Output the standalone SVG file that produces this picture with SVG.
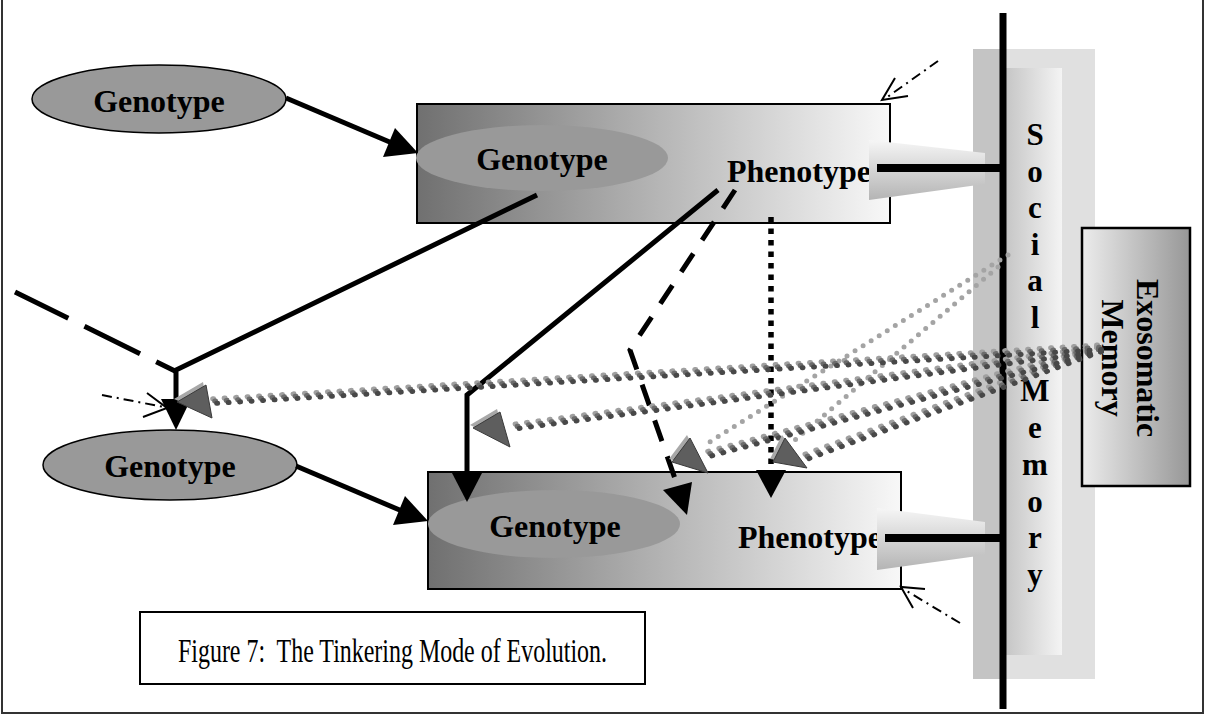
<svg xmlns="http://www.w3.org/2000/svg" width="1205" height="716" viewBox="0 0 1205 716">
<defs>
<linearGradient id="boxG" x1="0" y1="0" x2="1" y2="0">
<stop offset="0" stop-color="#707070"/><stop offset="1" stop-color="#f8f8f8"/>
</linearGradient>
<linearGradient id="colG" x1="0" y1="0" x2="1" y2="0">
<stop offset="0" stop-color="#c6c6c6"/><stop offset="1" stop-color="#f4f4f4"/>
</linearGradient>
<linearGradient id="exoG" x1="0" y1="0" x2="1" y2="0">
<stop offset="0" stop-color="#ececec"/><stop offset="1" stop-color="#979797"/>
</linearGradient>
<linearGradient id="trapG" x1="0" y1="0" x2="0" y2="1">
<stop offset="0" stop-color="#f6f6f6"/><stop offset="1" stop-color="#b4b4b4"/>
</linearGradient>
<style>
.bold{font-family:"Liberation Serif","Times New Roman",serif;font-weight:bold;font-size:32px;fill:#000}
.col{font-family:"Liberation Serif","Times New Roman",serif;font-weight:bold;font-size:31px;fill:#000;text-anchor:middle}
.ell{fill:#999;stroke:#000;stroke-width:1.5}
.inell{fill:#999}
.box{fill:url(#boxG);stroke:#000;stroke-width:2}
.solid{fill:none;stroke:#000;stroke-width:5}
.dash{fill:none;stroke:#000;stroke-width:5;stroke-dasharray:22 16}
.dot{fill:none;stroke:#000;stroke-width:5.5;stroke-dasharray:5.5 6}
.dd{fill:none;stroke:#000;stroke-width:2;stroke-dasharray:10 5 2 5}
.thin{fill:none;stroke:#000;stroke-width:2}
.head{fill:#000}
.bl{fill:none;stroke:#a0a0a0;stroke-width:5;stroke-linecap:round;stroke-dasharray:1 10.5}
.bm{fill:none;stroke:#6c6c6c;stroke-width:5;stroke-linecap:round;stroke-dasharray:1 10.5}
.bd{fill:none;stroke:#484848;stroke-width:5;stroke-linecap:round;stroke-dasharray:1 10.5}
.lgt{fill:none;stroke:#a4a4a4;stroke-width:5;stroke-linecap:round;stroke-dasharray:0 9.5}
.gh1{fill:#a8a8a8}
.gh2{fill:#5e5e5e;stroke:#3a3a3a;stroke-width:1}
</style>
</defs>
<rect x="0" y="0" width="1205" height="716" fill="#fff"/>
<rect x="2" y="-5" width="1201" height="718" fill="none" stroke="#333" stroke-width="2"/>

<g id="social-memory">
<rect x="973" y="49" width="122" height="630" fill="#e0e0e0"/>
<rect x="973" y="49" width="32" height="630" fill="#c4c4c4"/>
<rect x="1006" y="68" width="56" height="587" fill="url(#colG)"/>
<line x1="1003" y1="13" x2="1003" y2="709" stroke="#000" stroke-width="7"/>
<text class="col" x="1035" y="145">S</text>
<text class="col" x="1035" y="182">o</text>
<text class="col" x="1035" y="218">c</text>
<text class="col" x="1035" y="255">i</text>
<text class="col" x="1035" y="291">a</text>
<text class="col" x="1035" y="328">l</text>
<text class="col" x="1035" y="401">M</text>
<text class="col" x="1035" y="438">e</text>
<text class="col" x="1035" y="475">m</text>
<text class="col" x="1035" y="512">o</text>
<text class="col" x="1035" y="548">r</text>
<text class="col" x="1035" y="585">y</text>
</g>

<g id="exosomatic-memory">
<rect x="1082" y="228" width="108" height="258" fill="url(#exoG)" stroke="#000" stroke-width="2.5"/>
<text class="bold" text-anchor="middle" transform="translate(1137,358) rotate(90)">Exosomatic</text>
<text class="bold" text-anchor="middle" transform="translate(1102,358) rotate(90)">Memory</text>
</g>

<g id="genotype-1">
<ellipse class="ell" cx="159" cy="99" rx="127" ry="34"/>
<text class="bold" x="159" y="112" text-anchor="middle">Genotype</text>
</g>

<g id="organism-1">
<rect class="box" x="417" y="104" width="473" height="119"/>
<ellipse class="inell" cx="542" cy="158" rx="126" ry="33"/>
<text class="bold" x="542" y="170" text-anchor="middle">Genotype</text>
<text class="bold" x="727" y="182">Phenotype</text>
<polygon points="869,140 985,153 985,184 869,200" fill="url(#trapG)"/>
</g>

<g id="genotype-2">
<ellipse class="ell" cx="170" cy="465" rx="127" ry="35"/>
<text class="bold" x="170" y="477" text-anchor="middle">Genotype</text>
</g>

<g id="organism-2">
<rect class="box" x="428" y="472" width="473" height="117"/>
<ellipse class="inell" cx="554" cy="524" rx="126" ry="34"/>
<text class="bold" x="555" y="537" text-anchor="middle">Genotype</text>
<text class="bold" x="738" y="548">Phenotype</text>
<polygon points="877,508 985,522 985,555 877,570" fill="url(#trapG)"/>
</g>

<g id="caption">
<rect x="140" y="612" width="505" height="72" fill="#fff" stroke="#000" stroke-width="2"/>
<text x="178" y="662" textLength="429" lengthAdjust="spacingAndGlyphs" style="font-family:'Liberation Serif','Times New Roman',serif;font-size:34px;fill:#000">Figure 7:&#160; The Tinkering Mode of Evolution.</text>
</g>

<g id="connectors">
<line x1="877" y1="168" x2="1003" y2="168" stroke="#000" stroke-width="8"/>
<line x1="885" y1="538" x2="1003" y2="538" stroke="#000" stroke-width="8"/>
<line class="solid" x1="286" y1="98" x2="392" y2="143"/>
<polygon class="head" points="418,153 383,157 395,128"/>
<line class="solid" x1="296" y1="466" x2="402" y2="511"/>
<polygon class="head" points="428,521 393,525 405,496"/>
<path class="dash" d="M175,371 L15,292" style="stroke-dasharray:21 18 62 18 100"/>
<polyline class="solid" points="537,195 176,370 176,402"/>
<polygon class="head" points="161,399 191,399 176,430"/>
<polyline class="solid" points="718,190 467,395 467,476"/>
<polygon class="head" points="452,473 482,473 467,502"/>
<polyline class="dash" points="735,190 630,350 679,490"/>
<polygon class="head" points="687,515 663,490 692,482"/>
<line class="dot" x1="771" y1="217" x2="771" y2="472"/>
<polygon class="head" points="756,470 786,470 771,498"/>
<path class="lgt" d="M1008,255 L708,443"/>
<path class="lgt" d="M998,267 L795,440"/>
<g transform="translate(-2.5,-3)">
<path class="bl" d="M1100,348 L212,402"/>
<path class="bl" d="M1100,350 L510,428"/>
<path class="bl" d="M1100,350 L708,455"/>
<path class="bl" d="M1100,350 L805,458"/>
</g>
<g transform="translate(-0.5,-0.7)">
<path class="bm" d="M1100,348 L212,402"/>
<path class="bm" d="M1100,350 L510,428"/>
<path class="bm" d="M1100,350 L708,455"/>
<path class="bm" d="M1100,350 L805,458"/>
</g>
<g transform="translate(1.5,1.5)">
<path class="bd" d="M1100,348 L212,402"/>
<path class="bd" d="M1100,350 L510,428"/>
<path class="bd" d="M1100,350 L708,455"/>
<path class="bd" d="M1100,350 L805,458"/>
</g>
<polygon class="gh1" points="174,399 203,382 209,414"/>
<polygon class="gh2" points="177,402 206,385 212,418"/>
<polygon class="gh1" points="470,425 497,409 507,443"/>
<polygon class="gh2" points="473,428 500,412 510,447"/>
<polygon class="gh1" points="669,459 687,435 705,469"/>
<polygon class="gh2" points="672,462 690,438 708,473"/>
<polygon class="gh1" points="770,459 782,435 804,464"/>
<polygon class="gh2" points="773,462 785,438 807,468"/>
<line class="dd" x1="938" y1="61" x2="886" y2="98"/>
<polyline class="thin" points="895,78 882,100 908,96"/>
<line class="dd" x1="960" y1="623" x2="905" y2="590"/>
<polyline class="thin" points="925,589 901,587 913,608"/>
<line class="dd" x1="102" y1="395" x2="164" y2="407"/>
<polyline class="thin" points="147,393 167,408 143,417"/>
</g>
</svg>
